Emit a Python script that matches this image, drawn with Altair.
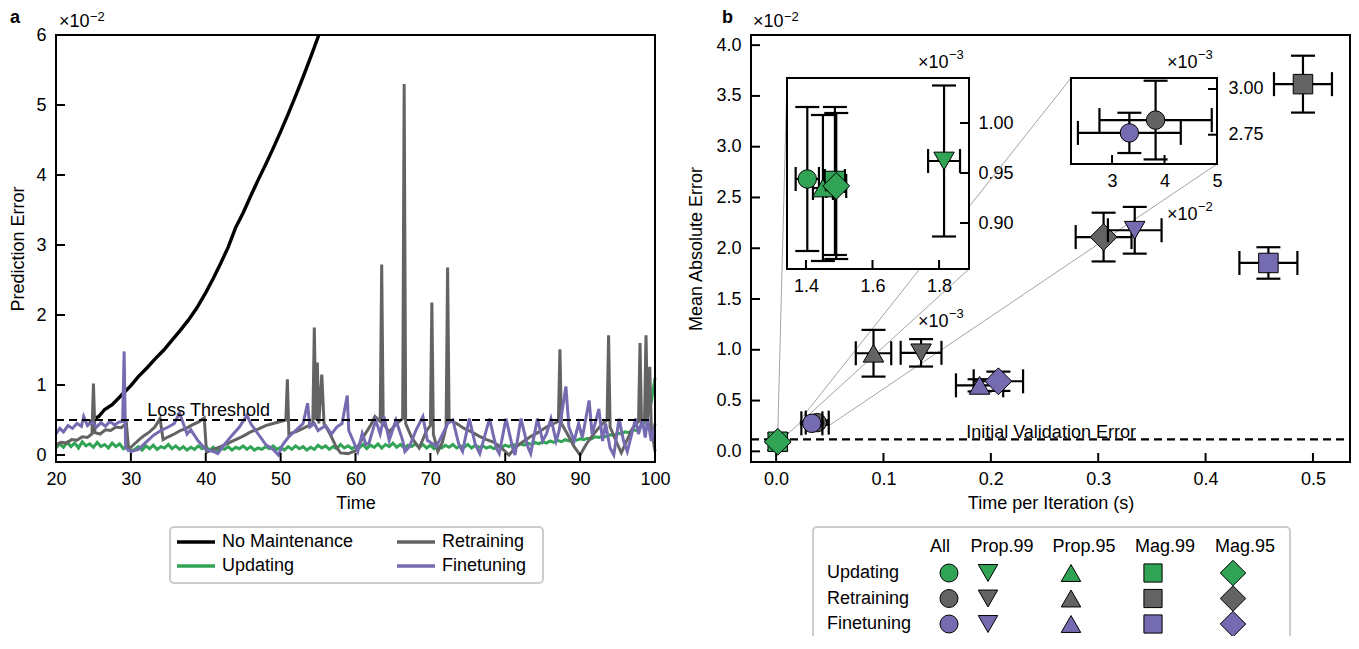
import altair as alt
import pandas as pd

FONT = "Liberation Sans"

# ---------------- Panel a data (prediction error, units of 1e-2) ----------------
nomaint_time = [24.5, 25.0, 25.7, 26.5, 27.5, 28.8, 30.0, 31.0, 32.2, 33.3, 34.4, 35.5, 36.6, 37.7, 38.8,
                40.0, 41.0, 42.0, 43.0, 44.0, 45.0, 46.0, 47.0, 48.0, 49.0, 50.0, 51.0, 52.0, 53.0, 54.0, 55.1]
nomaint_err = [0.45, 0.52, 0.55, 0.65, 0.72, 0.86, 0.99, 1.12, 1.25, 1.38, 1.50, 1.64, 1.78, 1.93, 2.10,
               2.32, 2.52, 2.74, 2.97, 3.25, 3.46, 3.70, 3.93, 4.15, 4.38, 4.62, 4.87, 5.13, 5.40, 5.68, 6.00]

retrain_pts = [(20.0, 0.15), (20.7, 0.18), (21.4, 0.17), (22.1, 0.22), (22.8, 0.21), (23.5, 0.26), (24.2, 0.25),
               (24.8, 0.30), (25.0, 1.02), (25.2, 0.32), (25.9, 0.30), (26.6, 0.36), (27.3, 0.35), (28.0, 0.40),
               (28.7, 0.39), (29.4, 0.45), (29.7, 0.08), (30.4, 0.15), (31.1, 0.22), (31.8, 0.28), (32.5, 0.33),
               (33.2, 0.40), (33.9, 0.52), (34.3, 0.22), (35.0, 0.26), (35.8, 0.30), (36.6, 0.35), (37.4, 0.38),
               (38.2, 0.43), (39.0, 0.47), (39.8, 0.53), (40.1, 0.04), (41.0, 0.08), (42.0, 0.12), (43.0, 0.17),
               (44.0, 0.22), (45.0, 0.27), (46.0, 0.33), (47.0, 0.37), (48.0, 0.42), (49.0, 0.45), (50.7, 0.50),
               (50.9, 1.08), (51.1, 0.30), (52.0, 0.33), (53.0, 0.38), (54.3, 0.45), (54.5, 1.82), (54.7, 0.50),
               (54.9, 1.32), (55.1, 0.45), (55.5, 1.15), (55.8, 0.45), (56.6, 0.30), (57.4, 0.12), (58.0, 0.03),
               (59.0, 0.02), (60.0, 0.06), (61.0, 0.25), (62.0, 0.42), (62.6, 0.55), (63.3, 0.48), (63.5, 2.72),
               (63.7, 0.45), (64.5, 0.33), (65.5, 0.45), (66.3, 0.52), (66.5, 5.30), (66.7, 0.45), (67.5, 0.25),
               (68.5, 0.10), (69.5, 0.35), (70.0, 0.42), (70.2, 2.18), (70.4, 0.30), (71.0, 0.05), (71.6, 0.18),
               (72.1, 0.40), (72.3, 2.68), (72.5, 0.50), (73.5, 0.45), (74.5, 0.38), (75.5, 0.33), (76.5, 0.27),
               (77.5, 0.22), (78.5, 0.18), (79.5, 0.10), (80.5, 0.00), (81.5, 0.12), (82.5, 0.20), (83.5, 0.27),
               (84.5, 0.33), (85.5, 0.40), (86.5, 0.45), (87.1, 0.48), (87.3, 1.51), (87.5, 0.45), (88.3, 0.30),
               (89.2, 0.12), (90.0, 0.00), (90.8, 0.15), (91.8, 0.30), (93.0, 0.45), (93.6, 0.50), (93.8, 1.71),
               (94.0, 0.40), (94.8, 0.20), (95.5, 0.03), (96.2, 0.20), (97.0, 0.38), (97.8, 0.48), (98.0, 1.60),
               (98.2, 0.45), (98.6, 0.50), (98.8, 1.71), (99.0, 0.50), (99.3, 1.26), (99.5, 0.40), (100.0, 0.05)]

finetune_pts = [(20.0, 0.30), (20.5, 0.38), (21.0, 0.33), (21.6, 0.42), (22.2, 0.38), (22.8, 0.45), (23.4, 0.41),
                (23.7, 0.55), (24.2, 0.42), (24.8, 0.47), (25.4, 0.40), (26.0, 0.46), (26.6, 0.41), (27.2, 0.48),
                (27.8, 0.43), (28.4, 0.47), (28.9, 0.48), (29.1, 1.48), (29.3, 0.10), (30.0, 0.05), (31.0, 0.08),
                (32.0, 0.18), (33.0, 0.28), (34.0, 0.35), (35.0, 0.40), (35.8, 0.45), (36.5, 0.60), (37.0, 0.45),
                (37.5, 0.30), (38.0, 0.36), (39.0, 0.20), (40.0, 0.08), (41.0, 0.05), (41.6, 0.02), (42.5, 0.15),
                (43.5, 0.28), (44.5, 0.40), (45.5, 0.57), (46.0, 0.45), (47.0, 0.30), (48.0, 0.15), (49.0, 0.08),
                (49.7, 0.00), (50.3, 0.15), (51.0, 0.25), (52.0, 0.35), (53.0, 0.45), (53.6, 0.74), (53.9, 0.40),
                (54.5, 0.45), (55.0, 0.35), (56.0, 0.42), (56.8, 0.30), (57.5, 0.40), (58.2, 0.45), (58.9, 0.85),
                (59.1, 0.35), (59.7, 0.20), (60.3, 0.05), (60.9, 0.31), (61.4, 0.15), (61.8, 0.17), (62.7, 0.50),
                (63.3, 0.30), (63.8, 0.55), (64.5, 0.21), (65.4, 0.50), (66.3, 0.21), (66.6, 0.05), (67.2, 0.12),
                (68.1, 0.36), (69.0, 0.55), (69.6, 0.21), (70.8, 0.12), (71.7, 0.31), (72.3, 0.45), (73.0, 0.50),
                (73.8, 0.15), (74.3, 0.05), (75.2, 0.52), (76.0, 0.15), (76.6, 0.02), (77.9, 0.52), (78.8, 0.10),
                (79.2, 0.02), (80.1, 0.52), (81.0, 0.10), (81.3, 0.00), (82.1, 0.52), (83.0, 0.12), (83.4, 0.02),
                (84.3, 0.52), (85.0, 0.20), (85.5, 0.30), (86.1, 0.52), (86.8, 0.20), (87.2, 0.35), (88.1, 0.98),
                (88.5, 0.40), (89.2, 0.20), (89.8, 0.45), (90.3, 0.25), (91.2, 0.78), (91.6, 0.30), (92.0, 0.45),
                (92.5, 0.66), (93.0, 0.20), (93.4, 0.45), (94.0, 0.10), (94.5, 0.00), (95.2, 0.52), (95.8, 0.20),
                (96.3, 0.05), (97.4, 0.52), (97.8, 0.30), (98.3, 0.50), (98.7, 0.25), (99.0, 0.52), (99.5, 0.20),
                (100.0, 0.45)]

updating_err = [0.10, 0.16, 0.11, 0.18, 0.12, 0.17, 0.10, 0.19, 0.13, 0.16, 0.11, 0.18, 0.12, 0.15, 0.10, 0.17,
                0.12, 0.16, 0.09, 0.14, 0.06,
                0.08, 0.12, 0.07, 0.13, 0.09, 0.14, 0.08, 0.12, 0.10, 0.15, 0.09, 0.13, 0.08, 0.12, 0.07, 0.11,
                0.08, 0.13, 0.09, 0.12,
                0.07, 0.11, 0.06, 0.10, 0.08, 0.12, 0.07, 0.11, 0.09, 0.13, 0.08, 0.12, 0.07, 0.10, 0.08, 0.12,
                0.09, 0.13, 0.08, 0.11,
                0.07, 0.12, 0.08, 0.13, 0.09, 0.12, 0.07, 0.11, 0.08, 0.14, 0.10, 0.13, 0.08, 0.12, 0.09, 0.15,
                0.10, 0.13, 0.09, 0.12,
                0.10, 0.15, 0.09, 0.14, 0.11, 0.16, 0.10, 0.15, 0.12, 0.17, 0.11, 0.15, 0.10, 0.14, 0.12, 0.16,
                0.11, 0.15, 0.10, 0.14,
                0.09, 0.13, 0.10, 0.14, 0.11, 0.15, 0.10, 0.13, 0.11, 0.15, 0.10, 0.14, 0.11, 0.13, 0.10, 0.12,
                0.09, 0.13, 0.11, 0.14,
                0.12, 0.15, 0.13, 0.16, 0.14, 0.17, 0.15, 0.18, 0.16, 0.19, 0.17, 0.20, 0.18, 0.21, 0.19, 0.22,
                0.20, 0.22, 0.21, 0.23,
                0.22, 0.24, 0.23, 0.26, 0.25, 0.27, 0.26, 0.29, 0.28, 0.31, 0.30, 0.33, 0.32, 0.36, 0.35, 0.40,
                0.45, 0.55, 0.75, 1.10]
updating_time = [20 + 0.5 * i for i in range(len(updating_err))]

series_names = ["No Maintenance", "Retraining", "Updating", "Finetuning"]
series_colors = ["#000000", "#636363", "#31a354", "#756bb1"]

# ---------------- Panel b data (time per iteration in s, mean absolute error) ----------------
methods = ["All", "Prop.99", "Prop.95", "Mag.99", "Mag.95"]
groups = ["Updating", "Retraining", "Finetuning"]
group_colors = ["#31a354", "#636363", "#756bb1"]

upd_time = [0.001404, 0.001815, 0.001451, 0.001487, 0.001491]
upd_time_err = [0.000035, 0.000048, 0.000030, 0.000030, 0.000030]
upd_mae = [0.000944, 0.000962, 0.000935, 0.000942, 0.000937]
upd_mae_err = [0.000072, 0.0000755, 0.000073, 0.000074, 0.000073]

ret_time = [0.0383, 0.135, 0.0907, 0.4907, 0.305]
ret_time_err = [0.0107, 0.019, 0.0165, 0.027, 0.026]
ret_mae = [0.00283, 0.0097, 0.00966, 0.03616, 0.0211]
ret_mae_err = [0.000215, 0.00135, 0.0023, 0.0028, 0.0024]

fin_time = [0.0333, 0.334, 0.1895, 0.4585, 0.207]
fin_time_err = [0.0098, 0.025, 0.022, 0.027, 0.023]
fin_mae = [0.00276, 0.02177, 0.0065, 0.01855, 0.0069]
fin_mae_err = [0.00011, 0.0023, 0.0006, 0.00155, 0.00095]

loss_threshold = 0.5
initial_validation_error = 0.00118

# ---------------- tables ----------------
rows = []
for t, e in zip(nomaint_time, nomaint_err):
    rows.append(("No Maintenance", t, e))
for t, e in zip(updating_time, updating_err):
    rows.append(("Updating", t, e))
for t, e in retrain_pts:
    rows.append(("Retraining", t, e))
for t, e in finetune_pts:
    rows.append(("Finetuning", t, e))
df_a = pd.DataFrame(rows, columns=["series", "time", "err"])

brows = []
for g, col, T, TE, M, ME in [("Updating", group_colors[0], upd_time, upd_time_err, upd_mae, upd_mae_err),
                             ("Retraining", group_colors[1], ret_time, ret_time_err, ret_mae, ret_mae_err),
                             ("Finetuning", group_colors[2], fin_time, fin_time_err, fin_mae, fin_mae_err)]:
    for i, m in enumerate(methods):
        brows.append({"group": g, "method": m, "color": col, "t": T[i], "mae": M[i],
                      "t_lo": T[i] - TE[i], "t_hi": T[i] + TE[i],
                      "m_lo": M[i] - ME[i], "m_hi": M[i] + ME[i]})
df_b = pd.DataFrame(brows)
df_leg = pd.DataFrame({"group": groups, "color": group_colors})
ONE = pd.DataFrame({"k": [0]})

# ---------------- layout (pixels inside the plot canvas) ----------------
W, H = 1343, 628
A_X, A_Y = [48, 647], [454, 27]
B_X, B_Y = [743, 1342], [454, 27]
I1 = (779, 961, 70, 261)   # left, right, top, bottom
I2 = (1063, 1209, 70, 156)

AX_DOM, AY_DOM = [20, 100], [-0.1, 6]
BX_DOM, BY_DOM = [-0.0234, 0.5345], [-0.00105, 0.0410]
I1X_DOM, I1Y_DOM = [0.001343, 0.00189], [0.000854, 0.001045]
I2X_DOM, I2Y_DOM = [0.02218, 0.0500], [0.00259, 0.00306]


def sc(dom, rng):
    return alt.Scale(domain=dom, range=rng, nice=False, zero=False)


SXA, SYA = sc(AX_DOM, A_X), sc(AY_DOM, A_Y)
SXB, SYB = sc(BX_DOM, B_X), sc(BY_DOM, B_Y)
SXI1, SYI1 = sc(I1X_DOM, [I1[0], I1[1]]), sc(I1Y_DOM, [I1[3], I1[2]])
SXI2, SYI2 = sc(I2X_DOM, [I2[0], I2[1]]), sc(I2Y_DOM, [I2[3], I2[2]])

AXA = alt.Axis(orient="bottom", offset=A_Y[0] - H, values=list(range(20, 101, 10)), format="d",
               title="Time", labelPadding=8, titlePadding=6)
AYA = alt.Axis(orient="left", offset=-A_X[0], values=list(range(0, 7)), format="d",
               title="Prediction Error", labelPadding=10, titlePadding=8)
AXB = alt.Axis(orient="bottom", offset=B_Y[0] - H, values=[0.0, 0.1, 0.2, 0.3, 0.4, 0.5], format=".1f",
               title="Time per Iteration (s)", labelPadding=8, titlePadding=6)
AYB = alt.Axis(orient="left", offset=-B_X[0], values=[0, 0.005, 0.01, 0.015, 0.02, 0.025, 0.03, 0.035, 0.04],
               labelExpr="format(datum.value*100, '.1f')", title="Mean Absolute Error",
               labelPadding=10, titlePadding=10)
AXI1 = alt.Axis(orient="bottom", offset=I1[3] - H, values=[0.0014, 0.0016, 0.0018],
                labelExpr="format(datum.value*1000, '.1f')", title=None, labelPadding=8)
AYI1 = alt.Axis(orient="right", offset=I1[1] - W, values=[0.0009, 0.00095, 0.001],
                labelExpr="format(datum.value*1000, '.2f')", title=None, labelPadding=9)
AXI2 = alt.Axis(orient="bottom", offset=I2[3] - H, values=[0.03, 0.04, 0.05],
                labelExpr="format(datum.value*100, '.0f')", title=None, labelPadding=8)
AYI2 = alt.Axis(orient="right", offset=I2[1] - W, values=[0.00275, 0.003],
                labelExpr="format(datum.value*1000, '.2f')", title=None, labelPadding=11)


def X(f, s, a):
    return alt.X(f, type="quantitative", scale=s, axis=a)


def Y(f, s, a):
    return alt.Y(f, type="quantitative", scale=s, axis=a)


def XD(v, s, a):
    return alt.XDatum(v, type="quantitative", scale=s, axis=a)


def YD(v, s, a):
    return alt.YDatum(v, type="quantitative", scale=s, axis=a)


def frame(sx, ax, sy, ay, xd, yd, fill, op):
    return alt.Chart(ONE).mark_rect(fill=fill, fillOpacity=op, stroke="black", strokeWidth=2).encode(
        x=XD(xd[0], sx, ax), x2=alt.X2Datum(xd[1]), y=YD(yd[0], sy, ay), y2=alt.Y2Datum(yd[1]))


def xticks(vals, sx, ax, sy, ay, ybottom):
    return alt.Chart(pd.DataFrame({"v": vals})).mark_tick(
        orient="vertical", size=9, thickness=2, color="black", opacity=1, yOffset=-4.5).encode(
        x=X("v", sx, ax), y=YD(ybottom, sy, ay))


def yticks(vals, sx, ax, sy, ay, xpos, inward):
    return alt.Chart(pd.DataFrame({"v": vals})).mark_tick(
        orient="horizontal", size=9, thickness=2, color="black", opacity=1, xOffset=4.5 * inward).encode(
        x=XD(xpos, sx, ax), y=Y("v", sy, ay))


SHAPE = alt.Shape("method:N", scale=alt.Scale(domain=methods,
                  range=["circle", "triangle-down", "triangle-up", "square", "diamond"]), legend=None)
SIZE = alt.Size("method:N", scale=alt.Scale(type="ordinal", domain=methods,
                range=[340, 420, 420, 380, 720]), legend=None)


def point_layers(expr, sx, ax, sy, ay, cap=24, lw=2.2):
    base = alt.Chart(df_b).transform_filter(expr)
    return [
        base.mark_rule(color="black", strokeWidth=lw).encode(
            x=X("t", sx, ax), y=Y("m_lo", sy, ay), y2=alt.Y2("m_hi")),
        base.mark_rule(color="black", strokeWidth=lw).encode(
            x=X("t_lo", sx, ax), x2=alt.X2("t_hi"), y=Y("mae", sy, ay)),
        base.mark_tick(orient="horizontal", size=cap, thickness=lw, color="black", opacity=1).encode(
            x=X("t", sx, ax), y=Y("m_lo", sy, ay)),
        base.mark_tick(orient="horizontal", size=cap, thickness=lw, color="black", opacity=1).encode(
            x=X("t", sx, ax), y=Y("m_hi", sy, ay)),
        base.mark_tick(orient="vertical", size=cap, thickness=lw, color="black", opacity=1).encode(
            x=X("t_lo", sx, ax), y=Y("mae", sy, ay)),
        base.mark_tick(orient="vertical", size=cap, thickness=lw, color="black", opacity=1).encode(
            x=X("t_hi", sx, ax), y=Y("mae", sy, ay)),
        base.mark_point(filled=True, stroke="black", strokeWidth=1, opacity=1).encode(
            x=X("t", sx, ax), y=Y("mae", sy, ay), color=alt.Color("color:N", scale=None),
            shape=SHAPE, size=SIZE),
    ]


def ann(text, x, y, size=18, weight="normal", align="left", baseline="alphabetic"):
    return alt.Chart(ONE).mark_text(text=text, font=FONT, fontSize=size, fontWeight=weight, align=align,
                                    baseline=baseline, color="black").encode(x=alt.value(x), y=alt.value(y))


def sci(x, y, exp, rise=9):
    return [ann("×10", x, y), ann(exp, x + 31, y - rise, size=13)]


# ---------------- panel a ----------------
COLOR_A = alt.Color("series:N", scale=alt.Scale(domain=series_names, range=series_colors), legend=None)

a_layers = []
for name in ["No Maintenance", "Updating", "Retraining", "Finetuning"]:
    a_layers.append(alt.Chart(df_a).transform_filter(alt.datum.series == name).mark_line(
        strokeWidth=3.4 if name == "No Maintenance" else 3, clip=True).encode(
        x=X("time", SXA, AXA), y=Y("err", SYA, AYA), color=COLOR_A))
a_layers += [
    alt.Chart(ONE).mark_rule(color="black", strokeWidth=2.2, strokeDash=[8, 5]).encode(
        x=XD(AX_DOM[0], SXA, AXA), x2=alt.X2Datum(AX_DOM[1]), y=YD(loss_threshold, SYA, AYA)),
    alt.Chart(ONE).mark_text(text="Loss Threshold", font=FONT, fontSize=18, align="left", dy=-9,
                             color="black").encode(x=XD(32.2, SXA, AXA), y=YD(loss_threshold, SYA, AYA)),
    xticks(list(range(20, 101, 10)), SXA, AXA, SYA, AYA, AY_DOM[0]),
    yticks(list(range(0, 7)), SXA, AXA, SYA, AYA, AX_DOM[0], 1),
    frame(SXA, AXA, SYA, AYA, AX_DOM, AY_DOM, "white", 0),
]
A = alt.layer(*a_layers)

# legend of panel a (two columns: No Maintenance / Updating | Retraining / Finetuning)
leg_a_pos = {"No Maintenance": (169, 534), "Retraining": (389, 534), "Updating": (169, 558), "Finetuning": (389, 558)}
la_layers = [alt.Chart(ONE).mark_rect(fill="white", stroke="#cccccc", strokeWidth=2, cornerRadius=4).encode(
    x=alt.value(162), x2=alt.value(535), y=alt.value(519), y2=alt.value(575))]
for name, col in zip(series_names, series_colors):
    lx, ly = leg_a_pos[name]
    la_layers.append(alt.Chart(ONE).mark_rule(color=col, strokeWidth=3.5).encode(
        x=alt.value(lx), x2=alt.value(lx + 38), y=alt.value(ly)))
    la_layers.append(ann(name, lx + 45, ly, baseline="middle"))
LA = alt.layer(*la_layers)

# ---------------- panel b main ----------------
def bx_inv(px):
    return BX_DOM[0] + (px - B_X[0]) / (B_X[1] - B_X[0]) * (BX_DOM[1] - BX_DOM[0])


def by_inv(py):
    return BY_DOM[0] + (B_Y[0] - py) / (B_Y[0] - B_Y[1]) * (BY_DOM[1] - BY_DOM[0])


conn = pd.DataFrame({
    "x": [I1X_DOM[0], I1X_DOM[1], I2X_DOM[0], I2X_DOM[1]],
    "y": [I1Y_DOM[1], I1Y_DOM[0], I2Y_DOM[1], I2Y_DOM[0]],
    "x2": [bx_inv(I1[0]), bx_inv(I1[1]), bx_inv(I2[0]), bx_inv(I2[1])],
    "y2": [by_inv(I1[2]), by_inv(I1[3]), by_inv(I2[2]), by_inv(I2[3])],
})

b_layers = [
    alt.Chart(ONE).mark_rule(color="black", strokeWidth=2.2, strokeDash=[8, 5]).encode(
        x=XD(BX_DOM[0], SXB, AXB), x2=alt.X2Datum(BX_DOM[1]), y=YD(initial_validation_error, SYB, AYB)),
    alt.Chart(ONE).mark_text(text="Initial Validation Error", font=FONT, fontSize=18, align="left", dy=-6,
                             color="black").encode(x=XD(0.177, SXB, AXB), y=YD(initial_validation_error, SYB, AYB)),
    alt.Chart(conn).mark_rule(color="#999999", strokeWidth=0.9).encode(
        x=X("x", SXB, AXB), y=Y("y", SYB, AYB), x2=alt.X2("x2"), y2=alt.Y2("y2")),
]
for g in groups:
    b_layers += point_layers(f"datum.group == '{g}'", SXB, AXB, SYB, AYB)
b_layers += [
    xticks([0.0, 0.1, 0.2, 0.3, 0.4, 0.5], SXB, AXB, SYB, AYB, BY_DOM[0]),
    yticks([0, 0.005, 0.01, 0.015, 0.02, 0.025, 0.03, 0.035, 0.04], SXB, AXB, SYB, AYB, BX_DOM[0], 1),
    frame(SXB, AXB, SYB, AYB, BX_DOM, BY_DOM, "white", 0),
]
B = alt.layer(*b_layers)

# ---------------- insets ----------------
i1_layers = [frame(SXI1, AXI1, SYI1, AYI1, I1X_DOM, I1Y_DOM, "white", 1),
             xticks([0.0014, 0.0016, 0.0018], SXI1, AXI1, SYI1, AYI1, I1Y_DOM[0]),
             yticks([0.0009, 0.00095, 0.001], SXI1, AXI1, SYI1, AYI1, I1X_DOM[1], -1)]
i1_layers += point_layers("datum.group == 'Updating'", SXI1, AXI1, SYI1, AYI1)
INS1 = alt.layer(*i1_layers)

i2_layers = [frame(SXI2, AXI2, SYI2, AYI2, I2X_DOM, I2Y_DOM, "white", 1),
             xticks([0.03, 0.04], SXI2, AXI2, SYI2, AYI2, I2Y_DOM[0]),
             yticks([0.00275, 0.003], SXI2, AXI2, SYI2, AYI2, I2X_DOM[1], -1)]
i2_layers += point_layers("datum.method == 'All' && datum.group != 'Updating'", SXI2, AXI2, SYI2, AYI2)
INS2 = alt.layer(*i2_layers)

# ---------------- legend of panel b ----------------
SLEG = alt.Scale(type="point", domain=groups, range=[565, 616], padding=0)
leg_marker_x = [941, 980, 1063, 1145, 1225]
leg_header_x = [932, 994, 1076, 1157, 1237]
leg_shapes = ["circle", "triangle-down", "triangle-up", "square", "diamond"]
leg_sizes = [324, 380, 380, 330, 650]

lb_layers = [alt.Chart(ONE).mark_rect(fill="white", stroke="#cccccc", strokeWidth=2, cornerRadius=4).encode(
    x=alt.value(805), x2=alt.value(1282), y=alt.value(519), y2=alt.value(700))]
for m, hx in zip(methods, leg_header_x):
    lb_layers.append(ann(m, hx, 539, align="center", baseline="middle"))
lb_layers.append(alt.Chart(df_leg).mark_text(font=FONT, fontSize=18, align="left", baseline="middle",
                                             color="black").encode(
    x=alt.value(819), y=alt.Y("group:N", scale=SLEG, axis=None), text="group:N"))
for mx, shp, sz in zip(leg_marker_x, leg_shapes, leg_sizes):
    lb_layers.append(alt.Chart(df_leg).mark_point(filled=True, shape=shp, size=sz, stroke="black",
                                                  strokeWidth=1, opacity=1).encode(
        x=alt.value(mx), y=alt.Y("group:N", scale=SLEG, axis=None), color=alt.Color("color:N", scale=None)))
LB = alt.layer(*lb_layers)

# ---------------- panel labels and multipliers ----------------
ann_layers = [ann("a", 2, 15, weight="bold"), ann("b", 714, 15, weight="bold")]
ann_layers += sci(51, 19, "−2", rise=6) + sci(745, 19, "−2", rise=6)
ann_layers += sci(910, 60, "−3") + sci(910, 319, "−3")
ann_layers += sci(1159, 60, "−3") + sci(1159, 212, "−2")
ANN = alt.layer(*ann_layers)

chart = alt.layer(A, LA, B, INS1, INS2, LB, ANN).resolve_scale(
    x="independent", y="independent"
).properties(
    width=W, height=H, autosize=alt.AutoSizeParams(type="none"), padding=0
).configure_view(stroke=None).configure_axis(
    domain=False, ticks=False, grid=False, labelFlush=False, labelOverlap=False,
    labelFont=FONT, labelFontSize=18, labelColor="black",
    titleFont=FONT, titleFontSize=18, titleFontWeight="normal", titleColor="black"
)

chart.save("out.html", embed_options={"renderer": "svg", "actions": False})
